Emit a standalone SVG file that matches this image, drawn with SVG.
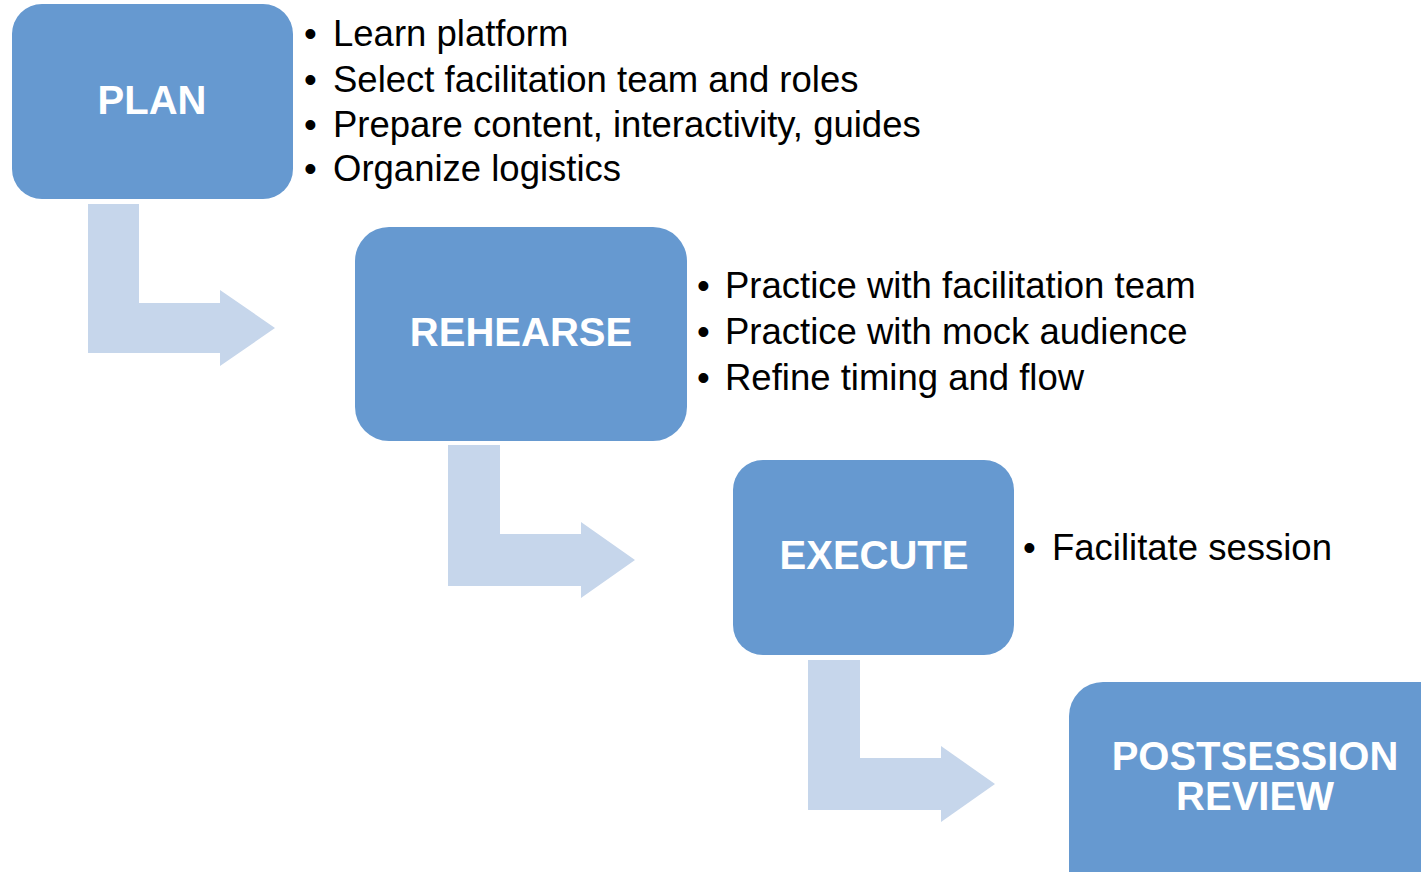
<svg xmlns="http://www.w3.org/2000/svg" width="1421" height="872" viewBox="0 0 1421 872">
<style>
.box{fill:#6699D0;}
.lbl{font-family:"Liberation Sans",Arial,sans-serif;font-weight:bold;font-size:40px;fill:#fff;text-anchor:middle;}
.bul{font-family:"Liberation Sans",Arial,sans-serif;font-size:36.5px;fill:#000;}
.arr{fill:#C6D6EB;}
</style>
<rect width="1421" height="872" fill="#fff"/>
<g id="connectors" class="arr">
<path d="M88,204 H139 V303 H220 V290 L275,328 L220,366 V353 H88 Z"/>
<path d="M448,445 H500 V534 H581 V522 L635,560 L581,598 V586 H448 Z"/>
<path d="M808,660 H860 V758 H941 V746 L995,784 L941,822 V810 H808 Z"/>
</g>
<g id="plan">
<rect class="box" x="12" y="4" width="281" height="195" rx="30"/>
<text class="lbl" x="152" y="114">PLAN</text>
<g class="bul">
<text x="304" y="46">•</text><text x="333" y="46">Learn platform</text>
<text x="304" y="92">•</text><text x="333" y="92">Select facilitation team and roles</text>
<text x="304" y="137">•</text><text x="333" y="137">Prepare content, interactivity, guides</text>
<text x="304" y="181">•</text><text x="333" y="181">Organize logistics</text>
</g>
</g>
<g id="rehearse">
<rect class="box" x="355" y="227" width="332" height="214" rx="34"/>
<text class="lbl" x="521" y="346">REHEARSE</text>
<g class="bul">
<text x="697" y="298">•</text><text x="725" y="298">Practice with facilitation team</text>
<text x="697" y="344">•</text><text x="725" y="344">Practice with mock audience</text>
<text x="697" y="390">•</text><text x="725" y="390">Refine timing and flow</text>
</g>
</g>
<g id="execute">
<rect class="box" x="733" y="460" width="281" height="195" rx="30"/>
<text class="lbl" x="874" y="569">EXECUTE</text>
<g class="bul">
<text x="1023" y="560">•</text><text x="1052" y="560">Facilitate session</text>
</g>
</g>
<g id="review">
<rect class="box" x="1069" y="682" width="400" height="240" rx="34"/>
<text class="lbl" x="1255" y="770">POSTSESSION</text>
<text class="lbl" x="1255" y="810">REVIEW</text>
</g>
</svg>
